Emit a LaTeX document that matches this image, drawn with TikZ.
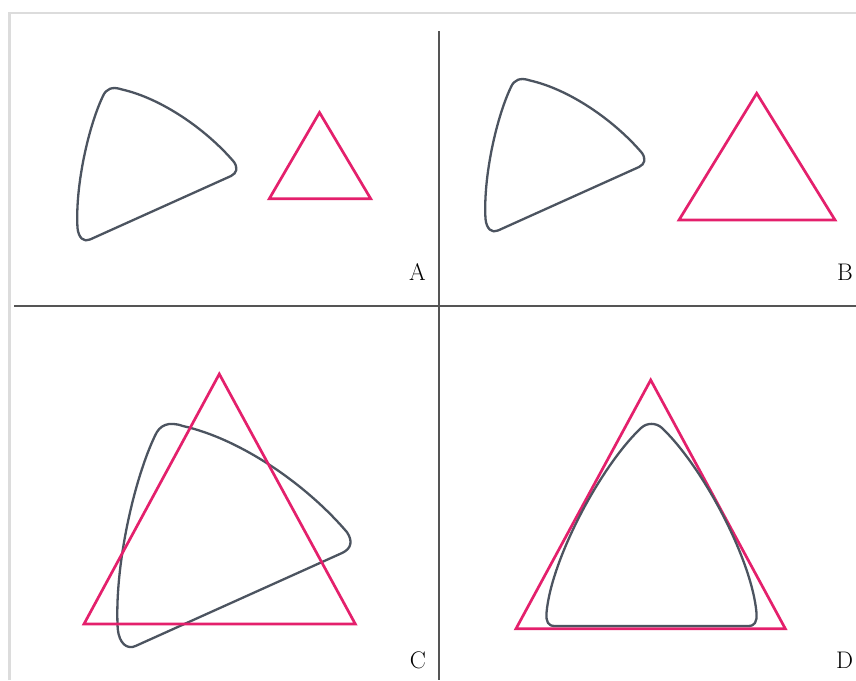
\documentclass[tikz,border=0pt]{standalone}
\definecolor{pinkc}{RGB}{228,32,108}
\definecolor{slatec}{RGB}{76,84,96}
\definecolor{divc}{RGB}{85,85,85}
\definecolor{framec}{RGB}{220,220,220}
\tikzset{
  pinkline/.style={draw=pinkc, line width=2.7pt, line join=miter},
  curvline/.style={draw=slatec, line width=2.3pt, line join=round},
  divider/.style={draw=divc, line width=1.7pt},
  framel/.style={draw=framec, line width=2.5pt},
  lbl/.style={font=\fontsize{24}{24}\selectfont, inner sep=0pt, text=black}
}
\newcommand{\rtpath}{(90,239.5) -- (231,176)
      .. controls (237,173) and (238,168) .. (234,162)
      .. controls (205,128) and (160,98) .. (122,89.5)
      .. controls (112,86) and (106,89) .. (103,96)
      .. controls (89,125) and (75,185) .. (77.5,228)
      .. controls (78.5,238) and (84,242.5) .. (90,239.5) -- cycle}
\begin{document}
\begin{tikzpicture}[x=1pt,y=-1pt]
\useasboundingbox[fill=white] (0,0) rectangle (856,680);
% outer frame
\coordinate (ftl) at (9.5,13);
\coordinate (ftr) at (856,13);
\coordinate (fbl) at (9.5,680);
\draw[framel] (fbl) -- (ftl) -- (ftr);
% dividers
\coordinate (vt) at (438.8,31);
\coordinate (vb) at (438.8,680);
\coordinate (hl) at (14,305.7);
\coordinate (hr) at (856,305.7);
\draw[divider] (vt) -- (vb);
\draw[divider] (hl) -- (hr);
% panel A
\draw[curvline] \rtpath;
\coordinate (a1) at (269.3,198.7);
\coordinate (a2) at (370.7,198.7);
\coordinate (a3) at (319.5,112.5);
\draw[pinkline] (a1) -- (a2) -- (a3) -- cycle;
% panel B
\begin{scope}[shift={(408,-9)}]
\draw[curvline] \rtpath;
\end{scope}
\coordinate (b1) at (679,220);
\coordinate (b2) at (835,220);
\coordinate (b3) at (756.7,93.3);
\draw[pinkline] (b1) -- (b2) -- (b3) -- cycle;
% panel C
\begin{scope}[shift={(4.2,294.9)},scale=1.465]
\draw[curvline] \rtpath;
\end{scope}
\coordinate (c1) at (84,624);
\coordinate (c2) at (355.3,624);
\coordinate (c3) at (219.3,374);
\draw[pinkline] (c1) -- (c2) -- (c3) -- cycle;
% panel D
\coordinate (d1) at (516,628.7);
\coordinate (d2) at (785.3,628.7);
\coordinate (d3) at (650.7,380);
\draw[pinkline] (d1) -- (d2) -- (d3) -- cycle;
\draw[curvline] (555,626) -- (748,626)
  .. controls (755,626) and (757,622) .. (756.5,613)
  .. controls (752,560) and (703,467) .. (662,428)
  .. controls (656,422.5) and (647,422.5) .. (641,428)
  .. controls (600,467) and (551,560) .. (546.5,613)
  .. controls (546,622) and (548,626) .. (555,626) -- cycle;
% labels
\node[lbl] (labA) at (417.5,272.5) {A};
\node[lbl] (labB) at (845,272.5) {B};
\node[lbl] (labC) at (418,660) {C};
\node[lbl] (labD) at (844.5,660) {D};
\end{tikzpicture}
\end{document}
